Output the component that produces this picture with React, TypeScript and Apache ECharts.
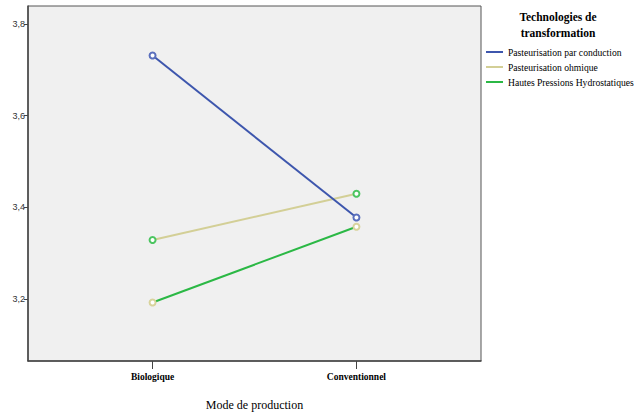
import React, { useEffect, useRef } from "react";
import * as echarts from "echarts";

const categories = ["Biologique", "Conventionnel"];
const categoryPositions = [0, 1];
const seriesNames = [
  "Pasteurisation par conduction",
  "Pasteurisation ohmique",
  "Hautes Pressions Hydrostatiques",
];
const conductionValues = [3.731, 3.378];
const ohmiqueValues = [3.329, 3.43];
const hphValues = [3.193, 3.358];
const yTicks = [3.2, 3.4, 3.6, 3.8];

const lineColors = ["#3d56ad", "#d3cf96", "#2bb845"];
const markerColors = ["#5a6fbd", "#4cc561", "#d8d39c"];

export default function App() {
  const ref = useRef<HTMLDivElement>(null);
  useEffect(() => {
    if (!ref.current) return;
    const chart = echarts.init(ref.current, undefined, { renderer: "svg" });
    const allValues = [conductionValues, ohmiqueValues, hphValues];
    const serif = "Liberation Serif";
    chart.setOption({
      animation: false,
      backgroundColor: "#ffffff",
      grid: {
        left: 28,
        right: 155,
        top: 6,
        bottom: 46,
        show: true,
        backgroundColor: "#f0f0f0",
        borderColor: "#555555",
        borderWidth: 1,
      },
      graphic: [
        {
          type: "text",
          x: 558,
          y: 9,
          style: {
            text: "Technologies de\ntransformation",
            align: "center",
            font: "bold 11.5px 'Liberation Serif'",
            lineHeight: 16,
            fill: "#000",
          },
        },
      ],
      legend: {
        orient: "vertical",
        left: 481,
        top: 41,
        itemWidth: 17,
        itemHeight: 2,
        itemGap: 3,
        icon: "rect",
        textStyle: {
          fontFamily: serif,
          fontSize: 9.6,
          color: "#000",
          lineHeight: 12,
        },
        data: seriesNames.map((n, i) => ({
          name: n,
          itemStyle: { color: lineColors[i] },
        })),
      },
      xAxis: {
        type: "value",
        min: -0.611,
        max: 1.611,
        name: "Mode de production",
        nameLocation: "middle",
        nameGap: 38,
        nameTextStyle: { fontFamily: serif, fontSize: 12, color: "#000" },
        splitLine: { show: false },
        axisLine: { onZero: false, lineStyle: { color: "#444", width: 1.5 } },
        axisTick: {
          customValues: categoryPositions,
          length: 8,
          lineStyle: { color: "#444" },
        },
        axisLabel: {
          customValues: categoryPositions,
          margin: 11,
          fontFamily: serif,
          fontWeight: "bold",
          fontSize: 9.5,
          color: "#000",
          formatter: (v: number) => categories[Math.round(v)] ?? "",
        },
      },
      yAxis: {
        type: "value",
        min: 3.0655,
        max: 3.839,
        splitLine: { show: false },
        axisLine: {
          show: true,
          onZero: false,
          lineStyle: { color: "#444", width: 1.5 },
        },
        axisTick: {
          show: true,
          customValues: yTicks,
          length: 4,
          lineStyle: { color: "#444" },
        },
        axisLabel: {
          customValues: yTicks,
          margin: 3,
          fontFamily: "Liberation Sans",
          fontSize: 9,
          color: "#333",
          formatter: (v: number) => v.toFixed(1).replace(".", ","),
        },
      },
      series: seriesNames.map((n, i) => ({
        name: n,
        type: "line",
        data: categoryPositions.map((x, j) => [x, allValues[i][j]]),
        symbol: "emptyCircle",
        symbolSize: 6,
        lineStyle: { color: lineColors[i], width: 2 },
        itemStyle: { color: markerColors[i], borderWidth: 1 },
        z: 3 - i,
      })),
    });
    return () => chart.dispose();
  }, []);
  return (
    <div
      ref={ref}
      style={{ position: "fixed", left: 0, top: 0, width: 636, height: 416 }}
    />
  );
}
